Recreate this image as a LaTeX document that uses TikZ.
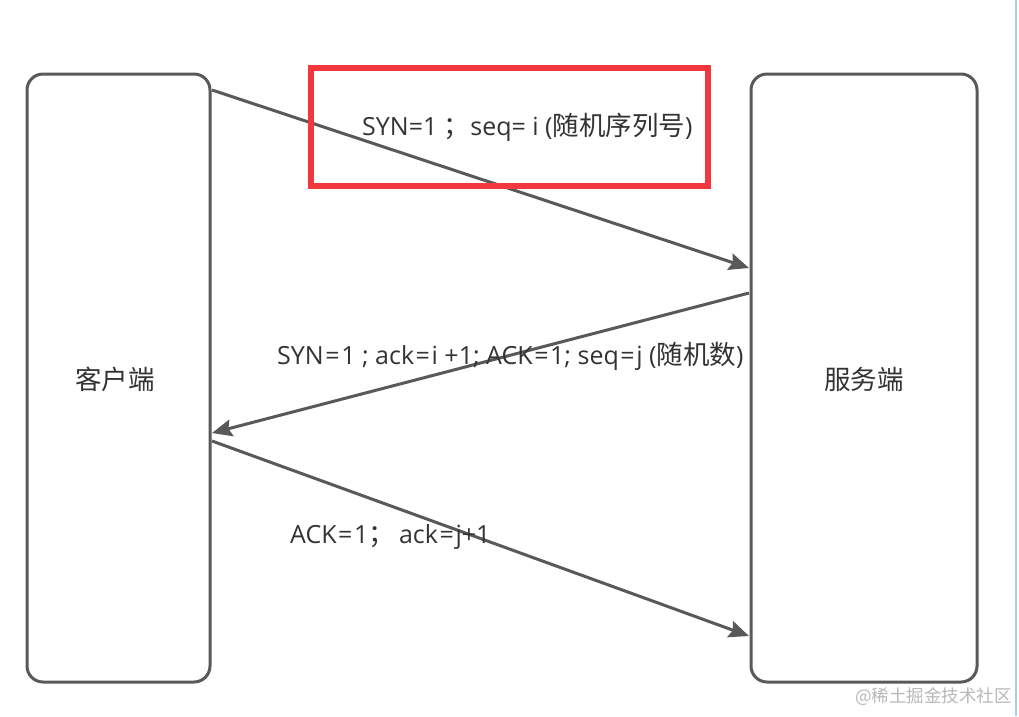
\documentclass[tikz,border=0pt]{standalone}
\usepackage{fontspec}
\setmainfont{Open Sans}
\newfontfamily\cjkfont{Noto Sans CJK SC}
\newcommand{\zh}[1]{{\cjkfont\fontsize{26.5}{30}\selectfont #1}}
\newcommand{\eqw}{\kern1.6pt=\kern1.6pt}
\usetikzlibrary{arrows.meta}
\definecolor{edge}{HTML}{595959}
\definecolor{txt}{HTML}{333333}
\definecolor{hl}{HTML}{F2373D}
\definecolor{wm}{HTML}{B8B8B8}
\definecolor{side}{HTML}{A9CDE6}
\tikzset{
  party/.style={draw=edge, line width=3pt, rounded corners=16pt, fill=white},
  msg/.style={draw=edge, line width=3pt, -{Stealth[length=20pt,width=17pt,inset=3pt]}},
  lbl/.style={text=txt, font=\fontsize{25}{29}\selectfont, inner sep=0pt},
  hlbox/.style={draw=hl, line width=6pt}
}
\begin{document}
\begin{tikzpicture}[x=1pt,y=-1pt]
\useasboundingbox (0,0) rectangle (1019,716);
\fill[white] (0,0) rectangle (1019,716);
\draw[side, line width=1.2pt] (1016,0) -- (1016,716);
\draw[party] (27,74) rectangle (210,682);
\draw[party] (751,74) rectangle (977,682);
\node[lbl] (client) at (115,379) {\zh{客户端}};
\node[lbl] (server) at (864,379) {\zh{服务端}};
\coordinate (c1) at (212,90);
\coordinate (s1) at (749,268);
\coordinate (s2) at (749,293);
\coordinate (c2) at (212,433);
\coordinate (c3) at (212,441);
\coordinate (s3) at (749,636);
\draw[msg] (c1) -- (s1);
\draw[msg] (s2) -- (c2);
\draw[msg] (c3) -- (s3);
\draw[hlbox] (311,68) rectangle (708,186);
\node[lbl, anchor=west] (m1) at (362,127) {SYN=1 \zh{；}seq= i (\zh{随机序列号})};
\node[lbl, anchor=west] (m2) at (277,356) {SYN\eqw1 ; ack\eqw i +1; ACK\eqw1; seq\eqw j (\zh{随机数})};
\node[lbl, anchor=west] (m3) at (290,537) {ACK\eqw1\zh{；}\,ack\eqw j+1};
\node[text=wm, font=\cjkfont\fontsize{17.5}{20}\selectfont, anchor=east, inner sep=0pt] (wm) at (1012,697) {@稀土掘金技术社区};
\end{tikzpicture}
\end{document}
